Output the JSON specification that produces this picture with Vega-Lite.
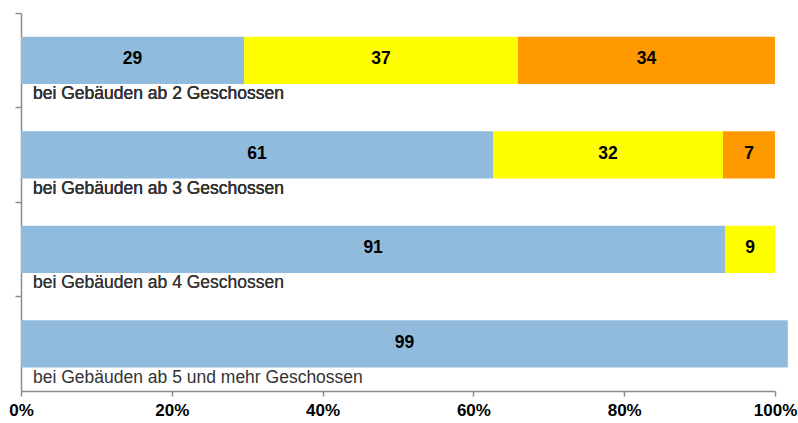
{
  "$schema": "https://vega.github.io/schema/vega-lite/v6.json",
  "autosize": "none",
  "width": 754,
  "height": 378,
  "padding": {"left": 21, "top": 13, "right": 23, "bottom": 32},
  "background": "white",
  "config": {"view": {"stroke": null}, "font": "Liberation Sans"},
  "data": {
    "values": [
      {"row": "bei Gebäuden ab 2 Geschossen", "serie": "Serie 1", "idx": 1, "share": 29.6, "label": "29"},
      {"row": "bei Gebäuden ab 2 Geschossen", "serie": "Serie 2", "idx": 2, "share": 36.3, "label": "37"},
      {"row": "bei Gebäuden ab 2 Geschossen", "serie": "Serie 3", "idx": 3, "share": 34.1, "label": "34"},
      {"row": "bei Gebäuden ab 3 Geschossen", "serie": "Serie 1", "idx": 1, "share": 62.6, "label": "61"},
      {"row": "bei Gebäuden ab 3 Geschossen", "serie": "Serie 2", "idx": 2, "share": 30.5, "label": "32"},
      {"row": "bei Gebäuden ab 3 Geschossen", "serie": "Serie 3", "idx": 3, "share": 6.9, "label": "7"},
      {"row": "bei Gebäuden ab 4 Geschossen", "serie": "Serie 1", "idx": 1, "share": 93.4, "label": "91"},
      {"row": "bei Gebäuden ab 4 Geschossen", "serie": "Serie 2", "idx": 2, "share": 6.6, "label": "9"},
      {"row": "bei Gebäuden ab 5 und mehr Geschossen", "serie": "Serie 1", "idx": 1, "share": 101.7, "label": "99"}
    ]
  },
  "transform": [
    {"stack": "share", "groupby": ["row"], "sort": [{"field": "idx"}], "as": ["x0", "x1"]},
    {"calculate": "(datum.x0 + datum.x1) / 2", "as": "xm"}
  ],
  "encoding": {
    "y": {
      "field": "row",
      "type": "nominal",
      "sort": null,
      "scale": {"paddingInner": 0, "paddingOuter": 0},
      "axis": {
        "title": null,
        "labels": false,
        "bandPosition": 0,
        "domainColor": "#8c8c8c",
        "domainWidth": 1.5,
        "tickColor": "#8c8c8c",
        "tickWidth": 1.5,
        "tickSize": 6
      }
    }
  },
  "layer": [
    {
      "mark": {"type": "bar", "height": {"band": 0.5}, "clip": false},
      "encoding": {
        "x": {
          "field": "x0",
          "type": "quantitative",
          "scale": {"domain": [0, 100], "nice": false},
          "axis": {
            "title": null,
            "values": [0, 20, 40, 60, 80, 100],
            "labelExpr": "datum.value + '%'",
            "grid": false,
            "domainColor": "#8c8c8c",
            "domainWidth": 1.5,
            "tickColor": "#8c8c8c",
            "tickWidth": 1.5,
            "tickSize": 5,
            "labelFontSize": 17,
            "labelFontWeight": "bold",
            "labelColor": "black",
            "labelPadding": 6,
            "labelFlush": false
          }
        },
        "x2": {"field": "x1"},
        "color": {
          "field": "serie",
          "type": "nominal",
          "scale": {"domain": ["Serie 1", "Serie 2", "Serie 3"], "range": ["#91bbdd", "#ffff00", "#ff9900"]},
          "legend": null
        }
      }
    },
    {
      "mark": {"type": "text", "fontWeight": "bold", "fontSize": 17.5, "color": "black", "baseline": "middle", "dy": -1},
      "encoding": {
        "x": {"field": "xm", "type": "quantitative"},
        "text": {"field": "label"}
      }
    },
    {
      "mark": {"type": "text", "fontSize": 17.5, "color": "#333333", "align": "left", "baseline": "middle", "dx": 12, "dy": 34},
      "encoding": {
        "x": {"datum": 0, "type": "quantitative"},
        "text": {"field": "row"}
      }
    }
  ]
}
